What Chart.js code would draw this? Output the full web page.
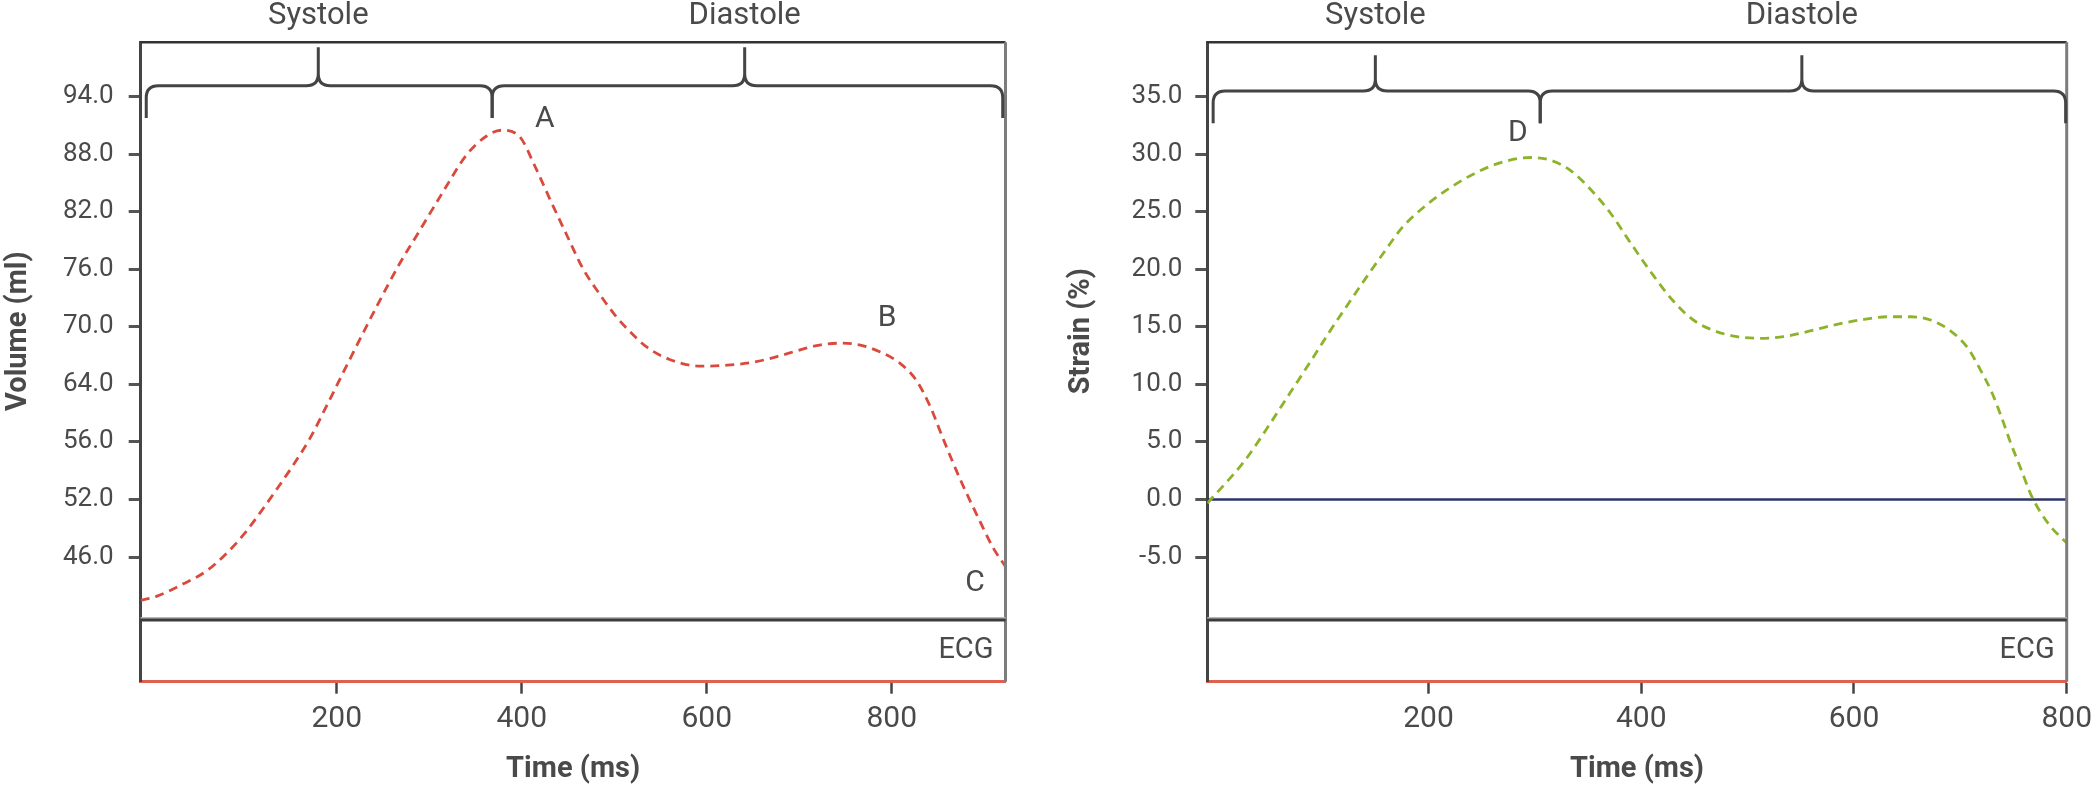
<!DOCTYPE html>
<html>
<head>
<meta charset="utf-8">
<script src="https://cdn.jsdelivr.net/npm/chart.js@4.4.1/dist/chart.umd.min.js"></script>
<style>
  html, body { margin: 0; padding: 0; background: #fff; }
  #wrap { position: relative; width: 2100px; height: 789px; }
  .panel { position: absolute; top: 0; width: 1050px; height: 789px; }
</style>
</head>
<body>
<div id="wrap">
  <div class="panel" style="left:0"><canvas id="volChart"></canvas></div>
  <div class="panel" style="left:1050px"><canvas id="strainChart"></canvas></div>
</div>
<script>
// values
// volume axis labels sit at equal spacing on the original even though the steps differ
const volTicks = [46, 52, 56, 64, 70, 76, 82, 88, 94]
const volTime = [-12, 5, 34, 60, 81, 99, 117, 135, 153, 171, 189, 214, 243, 268, 290, 315, 340, 362, 378, 398, 414, 431, 449, 466, 485, 501, 517, 535, 560, 593, 622, 650, 676, 701, 722, 747, 766, 787, 809, 826, 841, 856, 874, 892, 910, 923]
const volume = [41.5, 41.9, 43.2, 44.6, 46.4, 48.3, 50.6, 52.7, 54.4, 56.5, 61.0, 66.6, 72.1, 76.6, 80.1, 84.1, 87.9, 89.9, 90.5, 89.8, 86.8, 83.2, 79.5, 76.1, 73.3, 71.2, 69.5, 67.9, 66.6, 65.9, 66.0, 66.3, 66.9, 67.6, 68.1, 68.3, 68.1, 67.4, 66.2, 64.5, 61.1, 56.3, 53.4, 50.4, 46.9, 45.0]

const strainTicks = [-5, 0, 5, 10, 15, 20, 25, 30, 35]
const strainTime = [-8, 27, 52, 70, 89, 107, 126, 142, 158, 176, 198, 220, 246, 271, 296, 314, 333, 352, 371, 390, 409, 431, 449, 468, 490, 512, 534, 556, 581, 606, 631, 653, 672, 691, 707, 719, 729, 738, 747, 757, 767, 783, 800]
const strain = [-0.33, 3.35, 6.73, 9.29, 11.98, 14.59, 17.2, 19.37, 21.46, 23.72, 25.59, 27.07, 28.46, 29.36, 29.72, 29.5, 28.63, 26.98, 24.9, 22.29, 19.77, 17.16, 15.6, 14.69, 14.15, 14.01, 14.15, 14.58, 15.16, 15.6, 15.88, 15.88, 15.6, 14.64, 13.16, 11.25, 9.43, 7.34, 4.99, 2.65, 0.3, -2.13, -3.78]
const strainBase = 0

const timeTicks = [200, 400, 600, 800]

const volPhases = [
  { label: 'Systole', from: -6, mid: 180, to: 368 },
  { label: 'Diastole', from: 368, mid: 641, to: 920 }
]
const strainPhases = [
  { label: 'Systole', from: -2.5, mid: 150, to: 305 },
  { label: 'Diastole', from: 305, mid: 551, to: 799 }
]
const volMarks = [{ text: 'A', t: 425, v: 91.6 }, { text: 'B', t: 795, v: 70.9 }, { text: 'C', t: 890, v: 43.2 }]
const strainMarks = [{ text: 'D', t: 284, v: 31.8 }]

const FONT = "Roboto, 'Open Sans', sans-serif"
const TXT = '#4a4a4a'

// map a volume to its place on the unevenly labelled axis
function volPos(v) {
  const t = volTicks, n = t.length - 1
  if (v <= t[0]) return (v - t[0]) / (t[1] - t[0])
  for (let i = 1; i <= n; i++) if (v <= t[i]) return i - 1 + (v - t[i - 1]) / (t[i] - t[i - 1])
  return n + (v - t[n]) / (t[n] - t[n - 1])
}

function line(ctx, x0, y0, x1, y1, color, w) {
  ctx.beginPath(); ctx.strokeStyle = color; ctx.lineWidth = w
  ctx.moveTo(x0, y0); ctx.lineTo(x1, y1); ctx.stroke()
}

function drawBrace(ctx, x0, xm, x1, yH, yPeak, yTip, r) {
  ctx.beginPath()
  ctx.moveTo(x0, yTip); ctx.lineTo(x0, yH + r)
  ctx.quadraticCurveTo(x0, yH, x0 + r, yH)
  ctx.lineTo(xm - r, yH)
  ctx.quadraticCurveTo(xm, yH, xm, yH - r)
  ctx.lineTo(xm, yPeak)
  ctx.moveTo(xm, yH - r)
  ctx.quadraticCurveTo(xm, yH, xm + r, yH)
  ctx.lineTo(x1 - r, yH)
  ctx.quadraticCurveTo(x1, yH, x1, yH + r)
  ctx.lineTo(x1, yTip)
  ctx.stroke()
}

const extras = {
  id: 'extras',
  afterDatasetsDraw(chart, args, o) {
    const { ctx, chartArea: a, scales: { x, y } } = chart
    ctx.save()
    line(ctx, a.left, a.top, a.right, a.top, '#333', 2.5)
    line(ctx, a.right, a.top, a.right, a.bottom, '#7c7c7c', 3)
    const yd = y.getPixelForValue(o.divider)
    line(ctx, a.left, yd - 2, a.right, yd - 2, '#b8b8b8', 2)
    line(ctx, a.left, yd, a.right, yd, '#3c3c3c', 3)

    ctx.fillStyle = TXT
    ctx.font = `29px ${FONT}`
    ctx.textAlign = 'right'; ctx.textBaseline = 'middle'
    ctx.fillText('ECG', a.right - 12, (yd + a.bottom) / 2)

    // phase braces
    ctx.strokeStyle = '#444'; ctx.lineWidth = 3
    o.phases.forEach(p => {
      drawBrace(ctx, x.getPixelForValue(p.from), x.getPixelForValue(p.mid), x.getPixelForValue(p.to),
        a.top + o.braceY, a.top + o.peakY, a.top + o.tipY, 12)
    })
    ctx.font = `31px ${FONT}`; ctx.textAlign = 'center'
    o.phases.forEach(p => ctx.fillText(p.label, x.getPixelForValue(p.mid), a.top - 26))

    // point letters
    ctx.font = `30px ${FONT}`
    o.marks.forEach(m => ctx.fillText(m.text, x.getPixelForValue(m.t), y.getPixelForValue(o.toAxis(m.v))))

    // y title centred on the upper panel
    ctx.font = `bold 29px ${FONT}`
    ctx.translate(o.titleX, (a.top + yd) / 2)
    ctx.rotate(-Math.PI / 2)
    ctx.fillText(o.title, 0, 0)
    ctx.restore()
  }
}

function xScale(min, max) {
  return {
    type: 'linear', min, max,
    afterBuildTicks: s => { s.ticks = timeTicks.map(v => ({ value: v })) },
    ticks: { color: TXT, font: { family: FONT, size: 30 }, padding: 8, maxRotation: 0, autoSkip: false },
    grid: { drawOnChartArea: false, drawTicks: true, tickLength: 12, tickColor: '#444', tickWidth: 2.5 },
    border: { color: '#e0604f', width: 3 },
    title: { display: true, text: 'Time (ms)', color: TXT, font: { family: FONT, size: 29, weight: 'bold' }, padding: { top: 0, bottom: 2 } },
    afterFit: s => { s.height = 107.3 }
  }
}

function yScale(min, max, tickVals, label, width, pad) {
  return {
    min, max,
    afterBuildTicks: s => { s.ticks = tickVals.map(v => ({ value: v })) },
    ticks: { color: TXT, font: { family: FONT, size: 26 }, padding: pad, callback: label },
    grid: { drawOnChartArea: false, drawTicks: true, tickLength: 12, tickColor: '#555', tickWidth: 3 },
    border: { color: '#444', width: 3 },
    afterFit: s => { s.width = width }
  }
}

new Chart(document.getElementById('volChart'), {
  type: 'line',
  data: {
    datasets: [{
      data: volTime.map((t, i) => ({ x: t, y: volPos(volume[i]) })),
      borderColor: '#d94a3d', borderWidth: 2.8, borderDash: [9, 6], pointRadius: 0,
      cubicInterpolationMode: 'monotone', fill: false
    }]
  },
  options: {
    responsive: true, maintainAspectRatio: false, animation: false,
    layout: { padding: { top: 42.3, right: 44.5, left: 0, bottom: 0 } },
    scales: {
      x: xScale(-12, 923),
      y: yScale(-2.167, 8.945, volTicks.map((v, i) => i), v => volTicks[v].toFixed(1), 140.7, 15)
    },
    plugins: {
      legend: { display: false }, tooltip: { enabled: false },
      extras: {
        divider: -1.095, phases: volPhases, marks: volMarks, toAxis: volPos,
        braceY: 43.4, peakY: 5, tipY: 75.7, title: 'Volume (ml)', titleX: 19
      }
    }
  },
  plugins: [extras]
})

new Chart(document.getElementById('strainChart'), {
  type: 'line',
  data: {
    datasets: [
      {
        data: strainTime.map((t, i) => ({ x: t, y: strain[i] })),
        borderColor: '#8db32a', borderWidth: 2.8, borderDash: [9, 6], pointRadius: 0,
        cubicInterpolationMode: 'monotone', fill: false
      },
      {
        data: [{ x: -8, y: strainBase }, { x: 800, y: strainBase }],
        borderColor: '#2d3566', borderWidth: 2.5, pointRadius: 0, fill: false
      }
    ]
  },
  options: {
    responsive: true, maintainAspectRatio: false, animation: false,
    layout: { padding: { top: 42.3, right: 33.3, left: 0, bottom: 0 } },
    scales: {
      x: xScale(-8, 800),
      y: yScale(-15.83, 39.73, strainTicks, v => v.toFixed(1), 157.3, 13)
    },
    plugins: {
      legend: { display: false }, tooltip: { enabled: false },
      extras: {
        divider: -10.47, phases: strainPhases, marks: strainMarks, toAxis: v => v,
        braceY: 48.7, peakY: 13, tipY: 81, title: 'Strain (%)', titleX: 32
      }
    }
  },
  plugins: [extras]
})
</script>
</body>
</html>
